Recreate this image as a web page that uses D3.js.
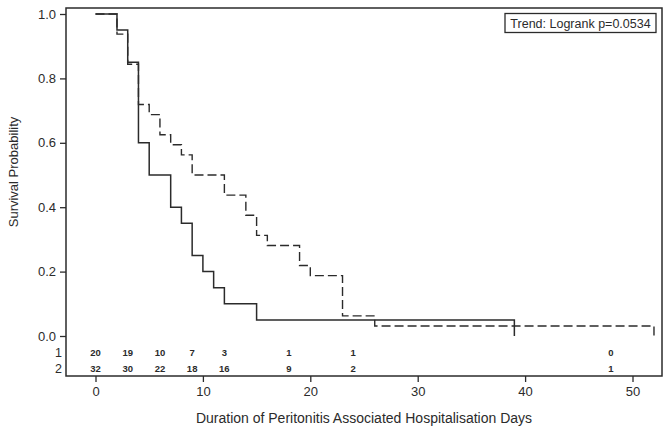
<!DOCTYPE html>
<html><head><meta charset="utf-8">
<script src="https://cdn.jsdelivr.net/npm/d3@7"></script>
<style>body{margin:0;background:#fff}svg{display:block;font-family:"Liberation Sans",Arial,sans-serif}</style>
</head><body><svg id="c" width="672" height="431"></svg>
<script>
const times1 = [0, 2, 3, 4, 5, 7, 8, 9, 10, 11, 12, 15, 39];
const surv1  = [1, 0.95, 0.85, 0.60, 0.50, 0.40, 0.35, 0.25, 0.20, 0.15, 0.10, 0.05, 0];
const times2 = [0, 2, 3, 4, 5, 6, 7, 8, 9, 12, 14, 15, 16, 19, 20, 23, 26, 52];
const surv2  = [1, 0.9375, 0.84375, 0.71875, 0.6875, 0.625, 0.59375, 0.5625, 0.5, 0.4375, 0.375, 0.3125, 0.28125, 0.21875, 0.1875, 0.0625, 0.03125, 0];
const riskTimes = [0, 3, 6, 9, 12, 18, 24, 48];
const risk1 = [20, 19, 10, 7, 3, 1, 1, 0];
const risk2 = [32, 30, 22, 18, 16, 9, 2, 1];
const groups = ["1", "2"];
const xTicks = [0, 10, 20, 30, 40, 50];
const yTicks = [0, 0.2, 0.4, 0.6, 0.8, 1.0];
const legendText = "Trend: Logrank p=0.0534";

const svg = d3.select("#c");
const col = "#2b2b2b";
const frame = {l: 66, t: 8, r: 662, b: 376};
const x = d3.scaleLinear().domain([0, 50]).range([95.5, 632.5]);
const y = d3.scaleLinear().domain([0, 1]).range([336, 14]);

// frame
svg.append("rect").attr("x", frame.l).attr("y", frame.t)
  .attr("width", frame.r - frame.l).attr("height", frame.b - frame.t)
  .attr("fill", "none").attr("stroke", col).attr("stroke-width", 1.5);

// axes
const ya = svg.append("g").attr("transform", `translate(${frame.l},0)`)
  .call(d3.axisLeft(y).tickValues(yTicks).tickFormat(d3.format(".1f")).tickSize(6).tickPadding(4));
const xa = svg.append("g").attr("transform", `translate(0,${frame.b})`)
  .call(d3.axisBottom(x).tickValues(xTicks).tickSize(6).tickPadding(5));
[ya, xa].forEach(g => {
  g.select(".domain").remove();
  g.selectAll("line").attr("stroke", col).attr("stroke-width", 1.3);
  g.selectAll("text").attr("fill", col).attr("font-size", 13).attr("font-family", "Liberation Sans, Arial, sans-serif");
});

// titles
svg.append("text").attr("x", (frame.l + frame.r) / 2).attr("y", 423)
  .attr("text-anchor", "middle").attr("font-size", 14).attr("fill", col)
  .text("Duration of Peritonitis Associated Hospitalisation Days");
svg.append("text").attr("transform", `translate(18,172) rotate(-90)`)
  .attr("text-anchor", "middle").attr("font-size", 13).attr("fill", col)
  .text("Survival Probability");

// curves
const line = d3.line().x(d => x(d[0])).y(d => y(d[1])).curve(d3.curveStepAfter);
svg.append("path").datum(times2.map((t, i) => [t, surv2[i]]))
  .attr("d", line).attr("fill", "none").attr("stroke", col).attr("stroke-width", 1.4)
  .attr("stroke-dasharray", "9,4");
svg.append("path").datum(times1.map((t, i) => [t, surv1[i]]))
  .attr("d", line).attr("fill", "none").attr("stroke", col).attr("stroke-width", 1.5);

// risk table
const rowY = [352, 368];
[risk1, risk2].forEach((r, gi) => {
  svg.append("text").attr("x", 62).attr("y", rowY[gi] + 4.5).attr("text-anchor", "end")
    .attr("font-size", 12.5).attr("fill", col).text(groups[gi]);
  svg.selectAll(null).data(r).enter().append("text")
    .attr("x", (d, i) => x(riskTimes[i])).attr("y", rowY[gi] + 3.5)
    .attr("text-anchor", "middle").attr("font-size", 9.5).attr("font-weight", "bold")
    .attr("fill", col).text(d => d);
});

// legend
const lg = svg.append("g");
lg.append("rect").attr("x", 505).attr("y", 13.5).attr("width", 151).attr("height", 19)
  .attr("fill", "#fff").attr("stroke", col).attr("stroke-width", 1.3);
lg.append("text").attr("x", 580.5).attr("y", 28).attr("text-anchor", "middle")
  .attr("font-size", 12.5).attr("fill", col).text(legendText);
</script></body></html>
